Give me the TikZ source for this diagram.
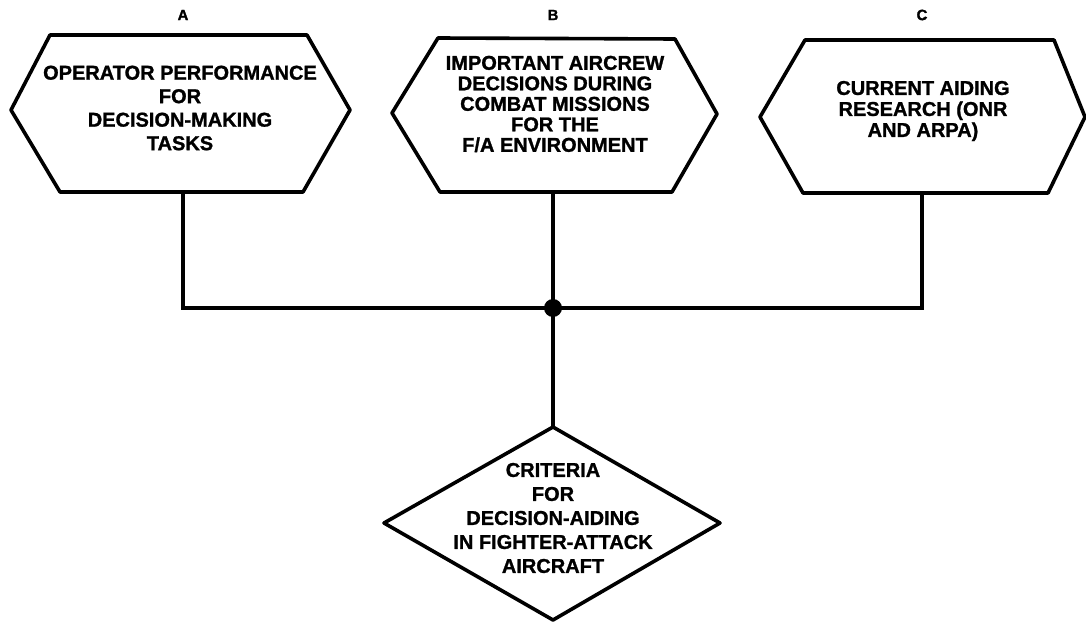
\documentclass[tikz,border=0pt]{standalone}
\usepackage{fontspec}
\setmainfont{Liberation Sans}[BoldFeatures={FakeBold=1.2}]
\begin{document}
\begin{tikzpicture}[x=1pt,y=-1pt,
  shapeline/.style={draw=black,line width=3.6pt,line join=round},
  conn/.style={draw=black,line width=3.6pt},
  boxtext/.style={align=center,inner sep=0pt,font=\bfseries\fontsize{20}{#1}\selectfont},
  lettertag/.style={inner sep=0pt,font=\bfseries\fontsize{15}{15}\selectfont},
  junction/.style={circle,fill=black,inner sep=0pt,minimum size=18pt}]
\useasboundingbox (0,0) rectangle (1086,623);
% hexagon A
\draw[shapeline] (50,35) -- (307,35) -- (350,110) -- (303,192) -- (60,192) -- (11,110) -- cycle;
% hexagon B
\draw[shapeline] (438,38) -- (675,39) -- (717,114) -- (672,192) -- (440,192) -- (392,113) -- cycle;
% hexagon C
\draw[shapeline] (805,40) -- (1054,40) -- (1085,117) -- (1048,193) -- (803,193) -- (760,117) -- cycle;
% diamond
\draw[shapeline] (553,427) -- (720,523) -- (553,620) -- (384,523) -- cycle;

\node[lettertag] (la) at (183,15) {A};
\node[lettertag] (lb) at (553,15) {B};
\node[lettertag] (lc) at (922,15) {C};

\node[boxtext=23.5] (ta) at (180,108) {OPERATOR PERFORMANCE\\FOR\\DECISION-MAKING\\TASKS};
\node[boxtext=20.5] (tb) at (555,104) {IMPORTANT AIRCREW\\DECISIONS DURING\\COMBAT MISSIONS\\FOR THE\\F/A ENVIRONMENT};
\node[boxtext=21] (tc) at (923,111) {CURRENT AIDING\\RESEARCH (ONR\\AND ARPA)};
\node[boxtext=24] (td) at (553,518) {CRITERIA\\FOR\\DECISION-AIDING\\IN FIGHTER-ATTACK\\AIRCRAFT};

\coordinate (ab) at (183,192);
\coordinate (bb) at (553,192);
\coordinate (cb) at (922,193);
\coordinate (dt) at (553,427);
\node[junction] (j) at (553,308) {};

\draw[conn] (ab) |- (j.center) -| (cb);
\draw[conn] (bb) -- (j.center) -- (dt);
\end{tikzpicture}
\end{document}
